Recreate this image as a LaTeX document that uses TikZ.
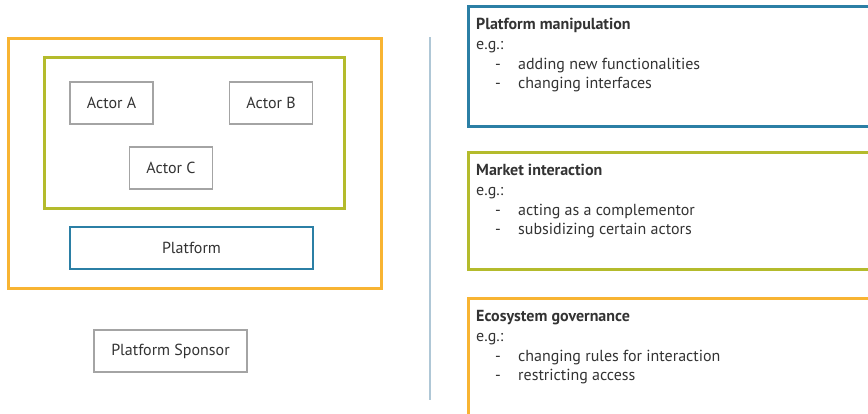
\documentclass[tikz,border=0pt]{standalone}
\usepackage{fontspec}
\setmainfont{PT Sans}
\usetikzlibrary{positioning}
\definecolor{sponsorOrange}{HTML}{F8B432}
\definecolor{actorGreen}{HTML}{B4BB2C}
\definecolor{platformBlue}{HTML}{2B7FA5}
\definecolor{boxGray}{HTML}{A4A4A4}
\definecolor{textGray}{HTML}{333333}
\definecolor{lineBlue}{HTML}{AFC7D6}

\begin{document}
\begin{tikzpicture}[x=1pt,y=-1pt,
  every node/.style = {text=textGray, font=\fontsize{16}{19.8}\selectfont, inner sep=0pt},
  frame/.style = {draw, line width=2.6pt, anchor=north west},
  actor/.style = {draw=boxGray, line width=1.3pt, minimum width=83pt, minimum height=42pt},
  info/.style = {anchor=north west, align=left}]
\useasboundingbox (0,0) rectangle (868,413);
% left side
\node[frame, draw=sponsorOrange, minimum width=373pt, minimum height=250pt] (eco) at (7,37) {};
\node[frame, draw=actorGreen, minimum width=300pt, minimum height=151pt] (market) at (43,56) {};
\node[actor] (actorA) at (111.5,103) {Actor A};
\node[actor] (actorB) at (271,103) {Actor B};
\node[actor] (actorC) at (171,168) {Actor C};
\node[actor, draw=platformBlue, line width=2.8pt, minimum width=243pt] (platform) at (191.5,248) {Platform};
\node[actor, minimum width=153pt] (sponsor) at (170.5,351) {Platform Sponsor};
% separator
\coordinate (sepTop) at (430,37);
\coordinate (sepBot) at (430,400);
\draw[lineBlue, line width=1.2pt] (sepTop) -- (sepBot);
% right side
\node[frame, draw=platformBlue, minimum width=420pt, minimum height=120pt] (manip) at (467,5) {};
\node[frame, draw=actorGreen, minimum width=420pt, minimum height=117pt] (interact) at (467,151) {};
\node[frame, draw=sponsorOrange, minimum width=420pt, minimum height=130pt] (govern) at (467,297) {};
\node[info, below right=13pt and 9pt of manip.north west] (manipText) {\textbf{Platform manipulation}\\e.g.:\\
  \hspace*{19pt}\makebox[23pt][l]{-}adding new functionalities\\
  \hspace*{19pt}\makebox[23pt][l]{-}changing interfaces};
\node[info, below right=13pt and 9pt of interact.north west] (interactText) {\textbf{Market interaction}\\e.g.:\\
  \hspace*{19pt}\makebox[23pt][l]{-}acting as a complementor\\
  \hspace*{19pt}\makebox[23pt][l]{-}subsidizing certain actors};
\node[info, below right=13pt and 9pt of govern.north west] (governText) {\textbf{Ecosystem governance}\\e.g.:\\
  \hspace*{19pt}\makebox[23pt][l]{-}changing rules for interaction\\
  \hspace*{19pt}\makebox[23pt][l]{-}restricting access};
\end{tikzpicture}
\end{document}
